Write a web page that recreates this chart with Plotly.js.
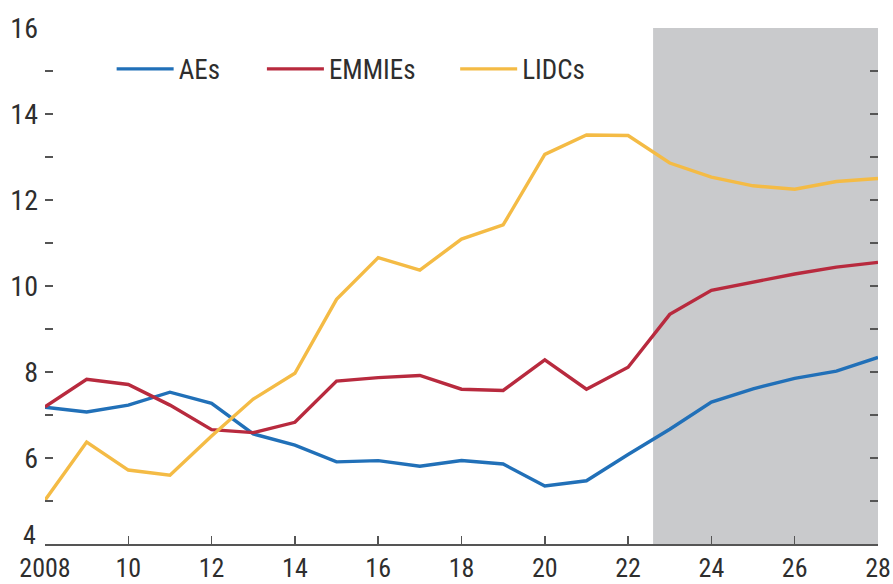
<!DOCTYPE html>
<html>
<head>
<meta charset="utf-8">
<script src="https://cdn.plot.ly/plotly-3.0.1.min.js"></script>
<style>html,body{margin:0;padding:0;background:#fff;}#chart{width:893px;height:584px;}</style>
</head>
<body>
<div id="chart"></div>
<script>
const years = [2008,2009,2010,2011,2012,2013,2014,2015,2016,2017,2018,2019,2020,2021,2022,2023,2024,2025,2026,2027,2028];
const aes    = [7.18,7.07,7.23,7.53,7.27,6.56,6.30,5.91,5.94,5.81,5.94,5.86,5.35,5.47,6.08,6.67,7.30,7.61,7.85,8.02,8.34];
const emmies = [7.19,7.83,7.71,7.23,6.66,6.59,6.83,7.79,7.87,7.92,7.60,7.57,8.28,7.60,8.11,9.34,9.90,10.09,10.28,10.44,10.55];
const lidcs  = [5.02,6.37,5.72,5.60,6.51,7.37,7.97,9.69,10.66,10.37,11.09,11.42,13.06,13.51,13.50,12.86,12.53,12.33,12.25,12.43,12.50];
const seriesNames = ['AEs','EMMIEs','LIDCs'];
const xTickVals = [2008,2010,2012,2014,2016,2018,2020,2022,2024,2026,2028];
const xTickText = ['2008','10','12','14','16','18','20','22','24','26','28'];
const yTickVals = [4,5,6,7,8,9,10,11,12,13,14,15,16];
const yTickText = ['4','','6','','8','','10','','12','','14','','16'];
const projStart = 2022.6, projEnd = 2028;

const FONT = '"Liberation Sans Narrow","Arial Narrow","Roboto Condensed","Liberation Sans",Arial,sans-serif';
const colors = ['#2170b8','#b82a3e','#f4bb45'];
const data = [aes, emmies, lidcs].map((ys,i)=>({
  x: years, y: ys, type:'scatter', mode:'lines', name: seriesNames[i],
  line:{color:colors[i], width:3.4}, cliponaxis:false,
  legend: i===0 ? 'legend' : ('legend'+(i+1))
}));
const legBase = {orientation:'h', yanchor:'middle', y:0.92, xanchor:'left', bgcolor:'rgba(0,0,0,0)', borderwidth:0,
  font:{family:FONT, size:27, color:'#2e2e2e'}, itemwidth:57};
// lowest y label is lifted slightly above the x axis line, as in the source
const yText = yTickText.slice(); yText[0] = '';
const layout = {
  width:893, height:584,
  margin:{l:45, r:15, t:28, b:40},
  paper_bgcolor:'#fff', plot_bgcolor:'#fff',
  showlegend:true,
  legend: Object.assign({}, legBase, {x:0.08}),
  legend2: Object.assign({}, legBase, {x:0.2604}),
  legend3: Object.assign({}, legBase, {x:0.4924}),
  xaxis:{range:[2008,2028], tickmode:'array', tickvals:xTickVals, ticktext:xTickText,
    ticks:'inside', ticklen:8, tickwidth:1.5, tickcolor:'#555', showline:true, linecolor:'#555', linewidth:1.5,
    showgrid:false, zeroline:false, tickfont:{family:FONT, size:26, color:'#2e2e2e'}, ticklabelstandoff:0, fixedrange:true},
  yaxis:{range:[4,16], tickmode:'array', tickvals:yTickVals, ticktext:yText,
    ticks:'inside', ticklen:8, tickwidth:1.5, tickcolor:'#555', showline:false, mirror:'ticks',
    showgrid:false, zeroline:false, tickfont:{family:FONT, size:28, color:'#2e2e2e'}, ticklabelstandoff:6, fixedrange:true},
  annotations:[{xref:'paper', yref:'y', x:0, y:yTickVals[0], text:yTickText[0], showarrow:false,
    xanchor:'right', yanchor:'middle', xshift:-7, yshift:9, font:{family:FONT, size:26, color:'#2e2e2e'}}],
  shapes:[{type:'rect', xref:'x', yref:'y', x0:projStart, x1:projEnd, y0:4, y1:16,
    fillcolor:'#c9cacc', line:{width:0}, layer:'below'}]
};
Plotly.newPlot('chart', data, layout, {displayModeBar:false, staticPlot:true});
</script>
</body>
</html>
